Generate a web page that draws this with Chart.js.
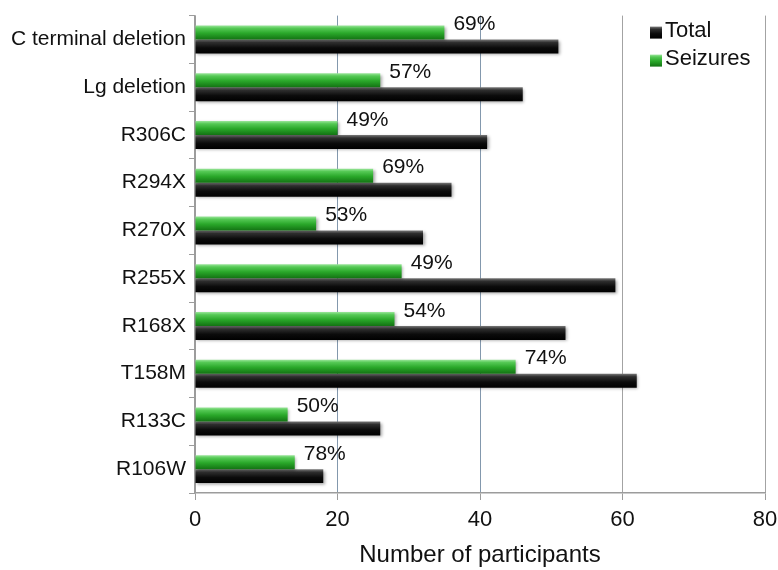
<!DOCTYPE html>
<html>
<head>
<meta charset="utf-8">
<title>Seizures by mutation</title>
<script src="https://cdn.jsdelivr.net/npm/chart.js@4/dist/chart.umd.min.js"></script>
<style>
  html, body { margin: 0; padding: 0; background: #ffffff; }
  #wrap { width: 778px; height: 570px; }
</style>
</head>
<body>
<div id="wrap"><canvas id="chart" width="778" height="570"></canvas></div>
<script>
// Mutation groups, top to bottom
const categories = ['C terminal deletion', 'Lg deletion', 'R306C', 'R294X', 'R270X',
                    'R255X', 'R168X', 'T158M', 'R133C', 'R106W'];
// Number of participants in each group
const totalValues = [51, 46, 41, 36, 32, 59, 52, 62, 26, 18];
// Participants with seizures in each group
const seizureValues = [35, 26, 20, 25, 17, 29, 28, 45, 13, 14];
// Share with seizures, printed beside the green bars
const percentLabels = ['69%', '57%', '49%', '69%', '53%', '49%', '54%', '74%', '50%', '78%'];
// Horizontal axis ticks
const xTicks = [0, 20, 40, 60, 80];

const FONT = 'Liberation Sans, Arial, Helvetica, sans-serif';
// Grid line colours for the ticks above (the inner lines are a cool blue-grey)
const GRID_COLORS = ['#9c9c9c', '#8398ad', '#8398ad', '#a3a3a3', '#a3a3a3'];

// Vertical gradients that give the bars their glossy, rounded look
const GREEN_STOPS = [[0, '#9be69b'], [0.2, '#55c955'], [0.55, '#2aa82a'], [1, '#137313']];
const BLACK_STOPS = [[0, '#7a7a7a'], [0.22, '#2e2e2e'], [0.6, '#0b0b0b'], [1, '#000000']];

function barGradient(ctx, stops, fallback, offsetSign) {
  const chart = ctx.chart;
  const y = chart.scales && chart.scales.y;
  if (!chart.chartArea || !y || ctx.dataIndex === undefined) return fallback;
  const band = (y.bottom - y.top) / categories.length;
  const thick = band * 0.586 / 2;
  const c = y.getPixelForValue(ctx.dataIndex);
  const top = offsetSign < 0 ? c - thick : c;
  const g = chart.ctx.createLinearGradient(0, top, 0, top + thick);
  stops.forEach(s => g.addColorStop(s[0], s[1]));
  return g;
}

function swatch(c, x, y, size, stops) {
  const g = c.createLinearGradient(0, y, 0, y + size);
  stops.forEach(s => g.addColorStop(s[0], s[1]));
  c.fillStyle = g;
  c.fillRect(x, y, size, size);
}

// Soft drop shadow under the bars
const shadowPlugin = {
  id: 'barShadow',
  beforeDatasetDraw(chart) {
    const c = chart.ctx;
    c.save();
    c.shadowColor = 'rgba(0,0,0,0.35)';
    c.shadowBlur = 3;
    c.shadowOffsetX = 1.5;
    c.shadowOffsetY = 1.5;
  },
  afterDatasetDraw(chart) {
    chart.ctx.restore();
  }
};

// Percentages written just right of each seizure bar
const percentPlugin = {
  id: 'percentLabels',
  afterDatasetsDraw(chart) {
    const c = chart.ctx;
    const meta = chart.getDatasetMeta(0);
    c.save();
    c.font = '21px ' + FONT;
    c.fillStyle = '#111111';
    c.textAlign = 'left';
    c.textBaseline = 'middle';
    meta.data.forEach((el, i) => {
      c.fillText(percentLabels[i], el.x + 9, el.y - 8);
    });
    c.restore();
  }
};

// Legend box in the upper right of the plot area
const legendPlugin = {
  id: 'cornerLegend',
  afterDraw(chart) {
    const c = chart.ctx;
    const area = chart.chartArea;
    const items = [
      { label: chart.data.datasets[1].label, stops: BLACK_STOPS },
      { label: chart.data.datasets[0].label, stops: GREEN_STOPS }
    ];
    c.save();
    c.font = '22px ' + FONT;
    c.textAlign = 'left';
    c.textBaseline = 'middle';
    const x0 = area.right - 115;
    items.forEach((it, i) => {
      const cy = area.top + 15 + i * 28;
      swatch(c, x0, cy - 4, 12, it.stops);
      c.fillStyle = '#111111';
      c.fillText(it.label, x0 + 15, cy);
    });
    c.restore();
  }
};

new Chart(document.getElementById('chart'), {
  type: 'bar',
  data: {
    labels: categories,
    datasets: [
      {
        label: 'Seizures',
        data: seizureValues,
        backgroundColor: ctx => barGradient(ctx, GREEN_STOPS, '#2aa82a', -1),
        borderWidth: 0
      },
      {
        label: 'Total',
        data: totalValues,
        backgroundColor: ctx => barGradient(ctx, BLACK_STOPS, '#111111', 1),
        borderWidth: 0
      }
    ]
  },
  options: {
    indexAxis: 'y',
    responsive: false,
    animation: false,
    devicePixelRatio: 1,
    categoryPercentage: 0.586,
    barPercentage: 1.0,
    layout: { padding: { top: 15, right: 0, left: 0, bottom: 0 } },
    plugins: {
      legend: { display: false },
      tooltip: { enabled: false }
    },
    scales: {
      x: {
        min: 0,
        max: 80,
        afterBuildTicks: s => { s.ticks = xTicks.map(v => ({ value: v })); },
        afterFit: s => { s.height = 77; s.paddingRight = 13; s.paddingLeft = 0; },
        ticks: {
          color: '#111111',
          font: { family: FONT, size: 22 },
          padding: 7
        },
        grid: {
          color: ctx => GRID_COLORS[ctx.index] || '#a3a3a3',
          lineWidth: 1,
          tickColor: '#9c9c9c',
          tickLength: 7
        },
        border: { color: '#9c9c9c', width: 1.5 },
        title: {
          display: true,
          text: 'Number of participants',
          color: '#111111',
          font: { family: FONT, size: 24 },
          padding: { top: 0, bottom: 0 }
        }
      },
      y: {
        afterFit: s => { s.width = 195; },
        ticks: {
          color: '#111111',
          font: { family: FONT, size: 21 },
          padding: 3
        },
        grid: {
          offset: true,
          drawOnChartArea: false,
          tickColor: '#9c9c9c',
          tickLength: 6,
          lineWidth: 1
        },
        border: { color: '#9c9c9c', width: 1.5 }
      }
    }
  },
  plugins: [shadowPlugin, percentPlugin, legendPlugin]
});
</script>
</body>
</html>
